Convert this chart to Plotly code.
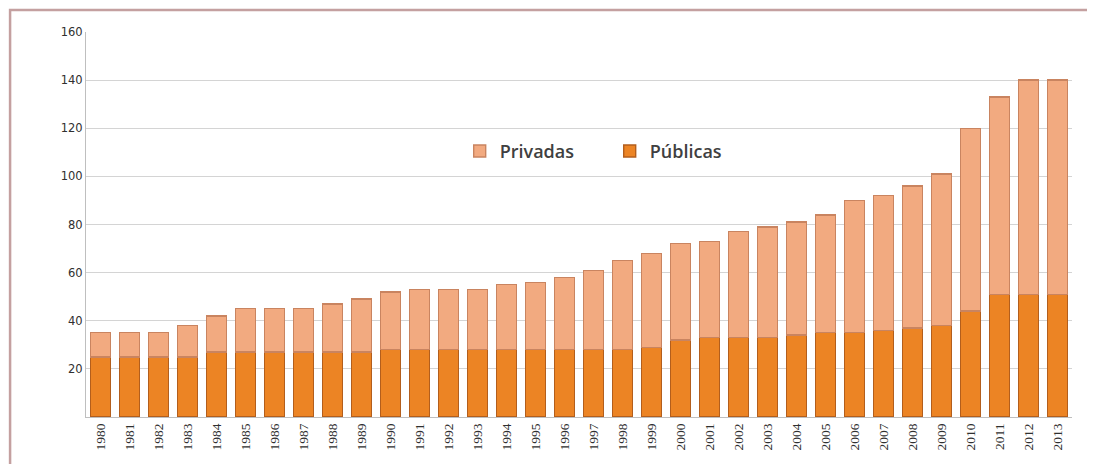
import plotly.graph_objects as go

years = [str(y) for y in range(1980, 2014)]
totales = [35, 35, 35, 38, 42, 45, 45, 45, 47, 49,
           52, 53, 53, 53, 55, 56, 58, 61, 65, 68,
           72, 73, 77, 79, 81, 84, 90, 92, 96, 101,
           120, 133, 140, 140]
publicas = [25, 25, 25, 25, 27, 27, 27, 27, 27, 27,
            28, 28, 28, 28, 28, 28, 28, 28, 28, 29,
            32, 33, 33, 33, 34, 35, 35, 36, 37, 38,
            44, 51, 51, 51]
privadas = [t - p for t, p in zip(totales, publicas)]

fig = go.Figure()
fig.add_trace(go.Bar(
    x=years, y=publicas, name="Públicas",
    marker=dict(color="#EC8424", line=dict(color="#B35E1C", width=1.4)),
))
fig.add_trace(go.Bar(
    x=years, y=privadas, name="Privadas",
    marker=dict(color="#F2AA80", line=dict(color="#C98460", width=1.4)),
))

fig.update_layout(
    barmode="stack",
    bargap=0.3,
    width=1079, height=456,
    margin=dict(l=78, r=15, t=24, b=47),
    paper_bgcolor="white",
    plot_bgcolor="white",
    showlegend=True,
    legend=dict(
        orientation="h", traceorder="reversed",
        x=0.379, y=0.69, xanchor="left", yanchor="middle",
        font=dict(family="Open Sans", size=18, color="#404040", weight=600),
        bgcolor="rgba(0,0,0,0)",
        entrywidth=105, entrywidthmode="pixels",
        itemwidth=30,
    ),
    xaxis=dict(
        type="category",
        tickangle=-90,
        tickfont=dict(family="Liberation Serif", size=13.5, color="#303030"),
        showgrid=False,
        showline=True, linecolor="#bfbfbf", linewidth=1,
        ticks="", ticklen=0,
    ),
    yaxis=dict(
        range=[0, 160],
        tickvals=[20, 40, 60, 80, 100, 120, 140, 160],
        tickfont=dict(family="DejaVu Sans", size=11.5, color="#303030"),
        showgrid=True, gridcolor="#d4d4d4", gridwidth=1,
        showline=True, linecolor="#bfbfbf", linewidth=1,
        zeroline=False,
        ticks="", ticklen=0,
    ),
    shapes=[dict(
        type="rect", xref="paper", yref="paper",
        x0=-0.077, x1=1.018, y0=-0.2, y1=1.057,
        line=dict(color="#C4A0A0", width=2.5),
        layer="below",
    )],
)

fig.write_html("out.html")
